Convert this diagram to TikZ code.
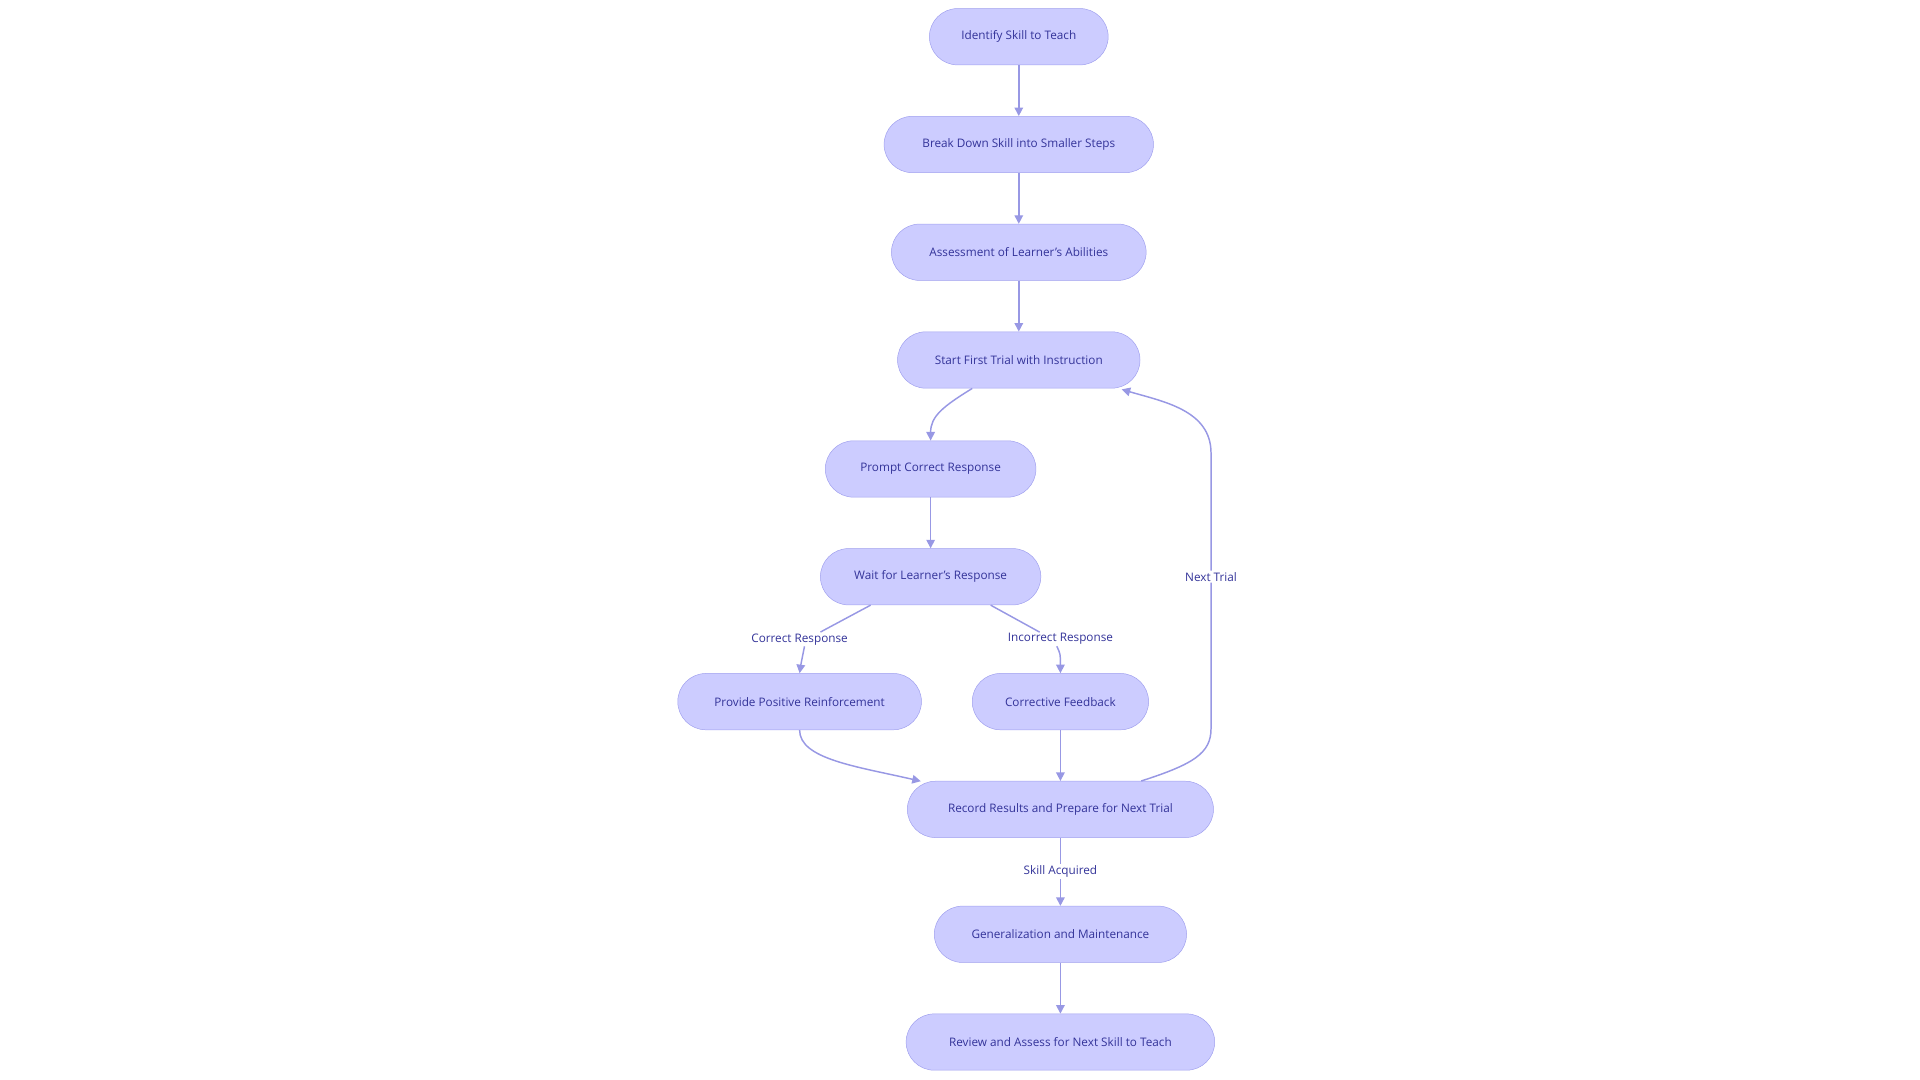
\documentclass[tikz,border=0pt]{standalone}
\usepackage{fontspec}
\setmainfont{Open Sans}
\usetikzlibrary{arrows.meta}
\definecolor{nfill}{HTML}{CCCCFF}
\definecolor{nline}{HTML}{A0A0EE}
\definecolor{ntext}{HTML}{333399}
\definecolor{eline}{HTML}{9898E4}
\begin{document}
\begin{tikzpicture}[x=1pt,y=-1pt,
  box/.style={draw=nline,fill=nfill,rounded corners=23pt,minimum height=46pt,inner sep=0pt,text=ntext,font=\fontsize{9.6}{11}\selectfont},
  lbl/.style={text=ntext,font=\fontsize{9.6}{11}\selectfont,fill=white,inner sep=1pt},
  e/.style={draw=eline,line width=1.2pt,-{Triangle[length=7pt,width=7pt]}},
  ln/.style={draw=eline,line width=1.2pt}]
\useasboundingbox (0,0) rectangle (1568,882);
\node[box,minimum width=146pt] (n1) at (832,30) {Identify Skill to Teach};
\node[box,minimum width=220pt] (n2) at (832,118) {Break Down Skill into Smaller Steps};
\node[box,minimum width=208pt] (n3) at (832,206) {Assessment of Learner's Abilities};
\node[box,minimum width=198pt] (n4) at (832,294) {Start First Trial with Instruction};
\node[box,minimum width=172pt] (n5) at (760,383) {Prompt Correct Response};
\node[box,minimum width=180pt] (n6) at (760,471) {Wait for Learner's Response};
\node[box,minimum width=199pt] (n7) at (653,573) {Provide Positive Reinforcement};
\node[box,minimum width=144pt] (n8) at (866,573) {Corrective Feedback};
\node[box,minimum width=250pt] (n9) at (866,661) {Record Results and Prepare for Next Trial};
\node[box,minimum width=206pt] (n10) at (866,763) {Generalization and Maintenance};
\node[box,minimum width=252pt] (n11) at (866,851) {Review and Assess for Next Skill to Teach};
\draw[e] (n1) -- (n2);
\draw[e] (n2) -- (n3);
\draw[e] (n3) -- (n4);
\draw[e] (n4.south -| 794,0) .. controls (770,332) and (760,340) .. (n5.north);
\draw[e] (n5) -- (n6);
\node[lbl] (lc) at (653,522) {Correct Response};
\node[lbl] (li) at (866,522) {Incorrect Response};
\draw[ln] (n6.south -| 711,0) -- (lc.north -| 670,0);
\draw[e] (lc.south -| 657,0) .. controls (655,536) .. (n7.north);
\draw[ln] (n6.south -| 809,0) -- (li.north -| 849,0);
\draw[e] (li.south -| 863,0) .. controls (866,534) .. (n8.north);
\draw[e] (n7.south) .. controls (653,620) and (700,626) .. (752,638);
\draw[e] (n8) -- (n9);
\node[lbl] (lt) at (989,471) {Next Trial};
\draw[ln] (n9.north -| 932,0) .. controls (975,624) and (989,615) .. (989,595) -- (lt.south);
\draw[e] (lt.north) -- (989,370) .. controls (989,335) and (950,328) .. (916,318);
\node[lbl] (ls) at (866,712) {Skill Acquired};
\draw[ln] (n9) -- (ls);
\draw[e] (ls) -- (n10);
\draw[e] (n10) -- (n11);
\end{tikzpicture}
\end{document}
